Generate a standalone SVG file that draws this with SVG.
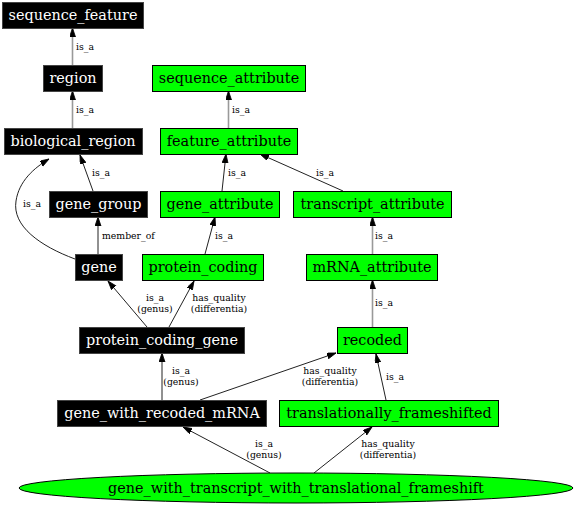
<svg xmlns="http://www.w3.org/2000/svg" width="576" height="507" viewBox="0 0 576 507">
<style>
.nb rect{fill:#000;stroke:#444;stroke-width:1}
.ng rect,.ng ellipse{fill:#00ff00;stroke:#000;stroke-width:1}
.nb text{fill:#fff}
.node text{font-family:"DejaVu Serif",serif;font-size:14.4px;text-anchor:middle}
.e path{fill:none;stroke:#222;stroke-width:1;marker-end:url(#ah)}
.e path.v{stroke:#999;stroke-width:1.6}
.el{font-family:"DejaVu Serif",serif;font-size:9.3px;fill:#000}
.c{text-anchor:middle}
</style>
<defs>
<marker id="ah" markerUnits="userSpaceOnUse" markerWidth="12" markerHeight="10" refX="9" refY="3" orient="auto">
<path d="M0,0 L9,3 L0,6 Z" fill="#000" stroke="#000" stroke-width="0.8"/>
</marker>
</defs>
<rect width="576" height="507" fill="#fff"/>
<g id="edges" class="e">
<path class="v" d="M72.5,65 L72.5,28"/>
<path class="v" d="M72.5,128 L72.5,91"/>
<path d="M93,191 L80,155"/>
<path d="M75,259 C40,246 12,226 16,201 C19,181 34,168 49,159"/>
<path d="M98,254 L98,217"/>
<path class="v" d="M228.5,128 L228.5,91"/>
<path d="M222,191 L226,154"/>
<path d="M343,191 L260,154"/>
<path d="M205,254 L215,217"/>
<path class="v" d="M372.5,254 L372.5,217"/>
<path class="v" d="M372.5,327 L372.5,280"/>
<path d="M147,327 L108,281"/>
<path d="M169,327 L194,281"/>
<path d="M162,400 L162,353"/>
<path d="M200,400 L336,353"/>
<path d="M386,400 L376,354"/>
<path d="M270,473 L183,427"/>
<path d="M314,473 L372,427"/>
<text class="el" x="76" y="50">is_a</text>
<text class="el" x="76" y="113">is_a</text>
<text class="el" x="92" y="176">is_a</text>
<text class="el" x="23" y="207">is_a</text>
<text class="el" x="102" y="239">member_of</text>
<text class="el" x="232" y="113">is_a</text>
<text class="el" x="228" y="176">is_a</text>
<text class="el" x="316" y="176">is_a</text>
<text class="el" x="215" y="239">is_a</text>
<text class="el" x="375" y="239">is_a</text>
<text class="el" x="375" y="306">is_a</text>
<text class="el c" x="155" y="301">is_a</text>
<text class="el c" x="155" y="312">(genus)</text>
<text class="el c" x="219" y="301">has_quality</text>
<text class="el c" x="219" y="312">(differentia)</text>
<text class="el c" x="181" y="374">is_a</text>
<text class="el c" x="181" y="385">(genus)</text>
<text class="el c" x="330" y="374">has_quality</text>
<text class="el c" x="330" y="385">(differentia)</text>
<text class="el" x="386" y="380">is_a</text>
<text class="el c" x="264" y="447">is_a</text>
<text class="el c" x="264" y="458">(genus)</text>
<text class="el c" x="388" y="447">has_quality</text>
<text class="el c" x="388" y="458">(differentia)</text>
</g>
<g id="sequence_feature" class="node nb"><rect x="2.5" y="2.5" width="141" height="26"/><text x="73" y="20">sequence_feature</text></g>
<g id="region" class="node nb"><rect x="43.5" y="65.5" width="59" height="26"/><text x="73" y="83">region</text></g>
<g id="biological_region" class="node nb"><rect x="4.5" y="128.5" width="138" height="26"/><text x="73" y="146">biological_region</text></g>
<g id="gene_group" class="node nb"><rect x="49.5" y="191.5" width="98" height="26"/><text x="98.5" y="209">gene_group</text></g>
<g id="gene" class="node nb"><rect x="75.5" y="254.5" width="47" height="26"/><text x="99" y="272">gene</text></g>
<g id="sequence_attribute" class="node ng"><rect x="152.5" y="65.5" width="153" height="26"/><text x="229" y="83">sequence_attribute</text></g>
<g id="feature_attribute" class="node ng"><rect x="160.5" y="128.5" width="137" height="26"/><text x="229" y="146">feature_attribute</text></g>
<g id="gene_attribute" class="node ng"><rect x="160.5" y="191.5" width="119" height="26"/><text x="220" y="209">gene_attribute</text></g>
<g id="transcript_attribute" class="node ng"><rect x="293.5" y="191.5" width="158" height="26"/><text x="372.5" y="209">transcript_attribute</text></g>
<g id="protein_coding" class="node ng"><rect x="142.5" y="254.5" width="121" height="26"/><text x="203" y="272">protein_coding</text></g>
<g id="mRNA_attribute" class="node ng"><rect x="306.5" y="254.5" width="131" height="26"/><text x="372" y="272">mRNA_attribute</text></g>
<g id="protein_coding_gene" class="node nb"><rect x="79.5" y="327.5" width="165" height="26"/><text x="162" y="345">protein_coding_gene</text></g>
<g id="recoded" class="node ng"><rect x="337.5" y="327.5" width="70" height="26"/><text x="372.5" y="345">recoded</text></g>
<g id="gene_with_recoded_mRNA" class="node nb"><rect x="57.5" y="400.5" width="209" height="26"/><text x="162" y="418">gene_with_recoded_mRNA</text></g>
<g id="translationally_frameshifted" class="node ng"><rect x="279.5" y="400.5" width="219" height="26"/><text x="389" y="418">translationally_frameshifted</text></g>
<g id="gene_with_transcript_with_translational_frameshift" class="node ng"><ellipse cx="296" cy="488" rx="277" ry="15"/><text x="296" y="493">gene_with_transcript_with_translational_frameshift</text></g>
</svg>
